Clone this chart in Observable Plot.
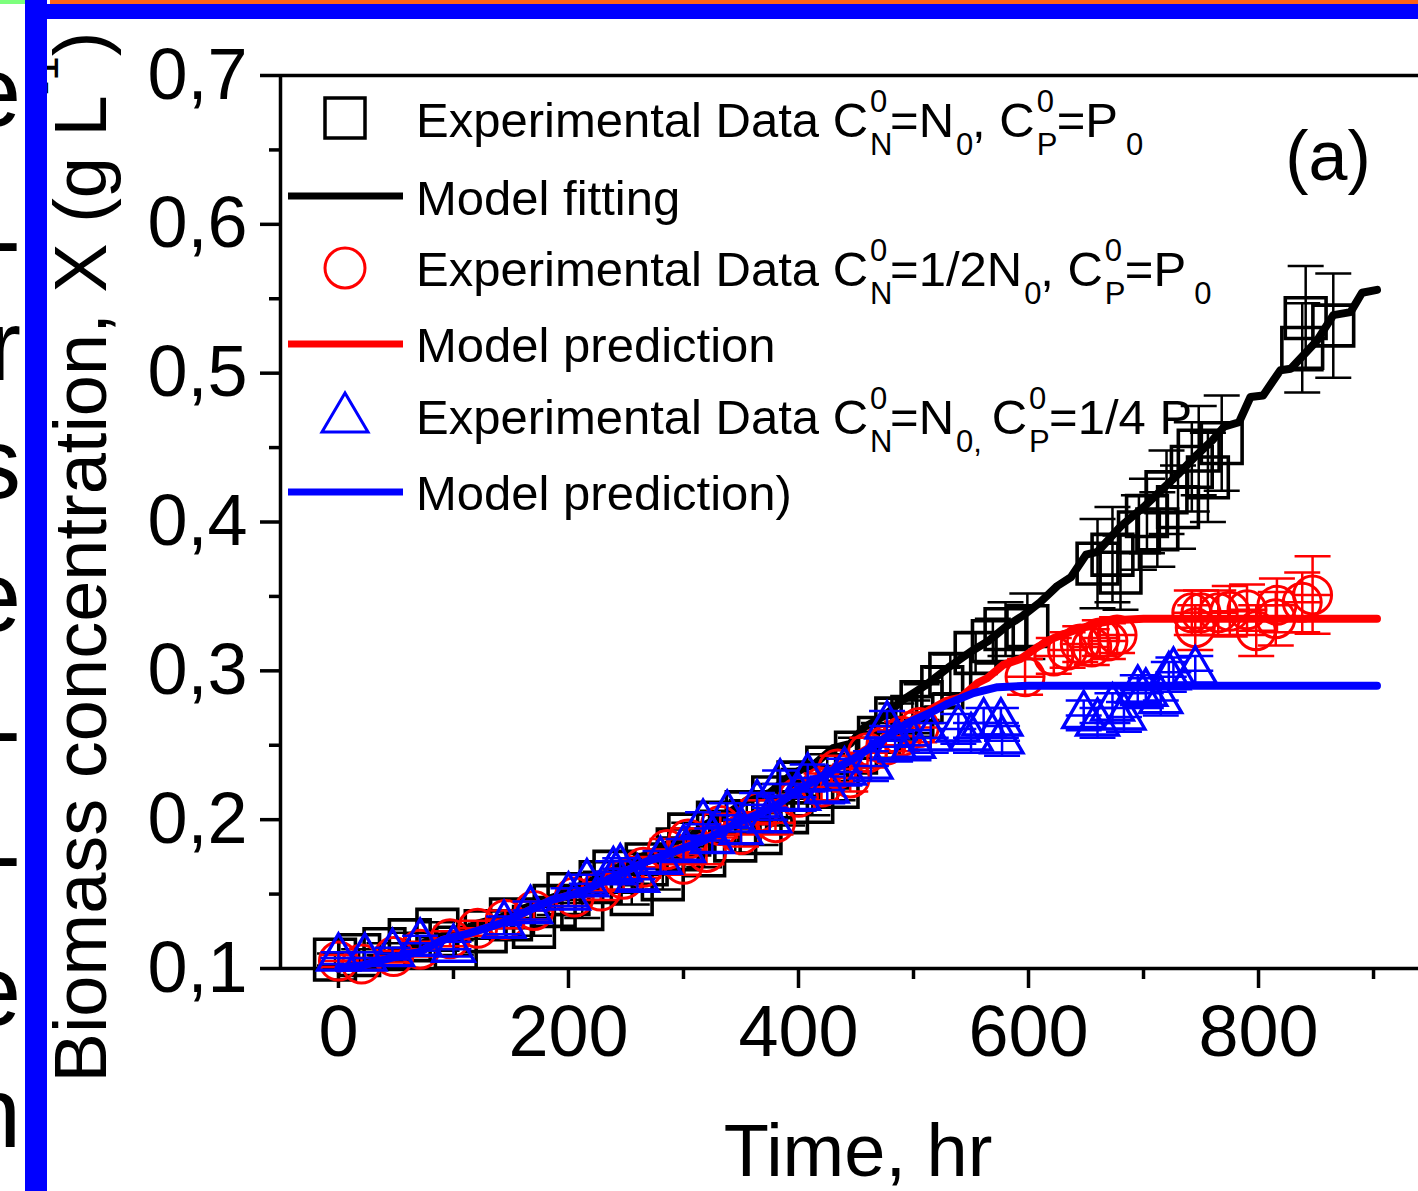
<!DOCTYPE html>
<html><head><meta charset="utf-8">
<script src="https://cdn.jsdelivr.net/npm/d3@7"></script>
<script src="https://cdn.jsdelivr.net/npm/@observablehq/plot@0.6"></script>
<style>
body{margin:0;background:#fff;}
#wrap{position:relative;width:1418px;height:1191px;overflow:hidden;background:#fff;font-family:"Liberation Sans",Arial,sans-serif;color:#000;}
#wrap svg{position:absolute;left:0;top:0;}
.abs{position:absolute;}
.row{position:absolute;left:416px;font-size:49px;line-height:49px;white-space:nowrap;}
.st{display:inline-block;position:relative;height:0;vertical-align:baseline;}
.st span{position:absolute;left:2px;font-size:31px;line-height:31px;}
.lt{position:absolute;right:4px;font-size:100px;line-height:100px;}
</style></head><body><div id="wrap"></div>
<script>
// ---------- data ----------
const xTicks = [0, 200, 400, 600, 800];
const xMinor = [100, 300, 500, 700, 900];
const yTicks = [0.1, 0.2, 0.3, 0.4, 0.5, 0.6, 0.7];
const yMinor = [0.15, 0.25, 0.35, 0.45, 0.55, 0.65];
const xDomain = [-50.4, 939.1];
const yDomain = [0.1, 0.7];

// [time (hr), biomass (g/L), error]
const expBlack = [
  [-3,0.106,0.004],[18,0.109,0.004],[40,0.113,0.004],[62,0.119,0.005],[86,0.126,0.005],
  [102,0.114,0.005],[128,0.125,0.005],[150,0.133,0.006],[170,0.128,0.006],[188,0.142,0.006],
  [200,0.150,0.006],[212,0.140,0.006],[228,0.158,0.007],[240,0.165,0.007],[255,0.150,0.007],
  [268,0.170,0.007],[282,0.160,0.007],[295,0.180,0.008],[305,0.190,0.008],[318,0.176,0.008],
  [330,0.198,0.008],[345,0.186,0.008],[355,0.205,0.008],[367,0.191,0.008],[378,0.215,0.009],
  [390,0.205,0.009],[400,0.225,0.009],[412,0.212,0.009],[425,0.235,0.009],[434,0.222,0.009],
  [450,0.245,0.010],[470,0.255,0.010],[485,0.268,0.010],[499,0.269,0.011],[507,0.279,0.012],
  [525,0.289,0.013],[532,0.298,0.013],[554,0.312,0.014],[569,0.320,0.015],[580,0.328,0.018],
  [599,0.330,0.022],[660,0.372,0.030],[673,0.378,0.032],[680,0.366,0.025],[696,0.393,0.025],
  [703,0.404,0.025],[712,0.395,0.025],[720,0.420,0.028],[730,0.410,0.028],[742,0.437,0.030],
  [748,0.448,0.030],[756,0.430,0.030],[768,0.453,0.032],[838,0.517,0.030],[841,0.537,0.035],
  [865,0.532,0.035]
];
const expRed = [
  [0,0.105,0.004],[20,0.103,0.004],[48,0.108,0.004],[71,0.113,0.005],[97,0.120,0.005],
  [121,0.127,0.005],[145,0.133,0.006],[170,0.139,0.006],[205,0.148,0.006],[228,0.152,0.006],
  [248,0.160,0.007],[265,0.168,0.007],[286,0.180,0.007],[300,0.170,0.007],[304,0.187,0.007],
  [320,0.178,0.008],[332,0.196,0.008],[350,0.190,0.008],[365,0.205,0.008],[380,0.198,0.008],
  [400,0.215,0.009],[420,0.222,0.009],[434,0.234,0.009],[445,0.228,0.009],[460,0.245,0.010],
  [476,0.250,0.010],[490,0.256,0.010],[505,0.262,0.010],[597,0.296,0.012],[622,0.310,0.012],
  [634,0.314,0.012],[645,0.318,0.012],[655,0.316,0.012],[662,0.322,0.012],[669,0.320,0.012],
  [677,0.324,0.012],[742,0.339,0.015],[745,0.329,0.015],[750,0.339,0.015],[765,0.339,0.015],
  [775,0.340,0.017],[790,0.341,0.017],[798,0.327,0.017],[815,0.335,0.018],[816,0.344,0.018],
  [838,0.346,0.020],[847,0.351,0.026]
];
const expBlue = [
  [0,0.107,0.004],[23,0.107,0.004],[47,0.110,0.004],[71,0.117,0.005],[100,0.113,0.005],
  [144,0.129,0.006],[167,0.139,0.006],[200,0.148,0.006],[216,0.157,0.006],[239,0.165,0.007],
  [245,0.167,0.007],[260,0.160,0.007],[280,0.172,0.007],[300,0.180,0.007],[317,0.197,0.008],
  [325,0.186,0.008],[338,0.203,0.008],[350,0.192,0.008],[364,0.210,0.008],[375,0.200,0.008],
  [384,0.224,0.009],[400,0.215,0.009],[408,0.228,0.009],[425,0.220,0.009],[440,0.232,0.009],
  [463,0.236,0.010],[477,0.263,0.010],[484,0.249,0.010],[500,0.250,0.010],[515,0.255,0.010],
  [539,0.261,0.010],[550,0.255,0.010],[561,0.265,0.010],[576,0.265,0.010],[577,0.253,0.010],
  [648,0.270,0.010],[660,0.265,0.010],[673,0.275,0.010],[683,0.269,0.010],[695,0.287,0.010],
  [702,0.285,0.010],[715,0.280,0.010],[722,0.296,0.010],[726,0.299,0.010],[745,0.300,0.010]
];

// [time (hr), biomass (g/L)]
const modelBlack = [
  [0,0.100],[20,0.104],[45,0.110],[65,0.114],[85,0.121],[105,0.124],[120,0.130],[140,0.134],
  [160,0.140],[180,0.146],[195,0.150],[220,0.159],[235,0.164],[250,0.171],[270,0.177],[290,0.185],
  [305,0.188],[320,0.197],[340,0.205],[355,0.213],[375,0.218],[395,0.231],[415,0.238],[430,0.248],
  [445,0.251],[457,0.262],[475,0.270],[490,0.280],[510,0.290],[530,0.302],[550,0.313],[565,0.320],
  [581,0.330],[595,0.337],[610,0.346],[625,0.357],[637,0.363],[650,0.378],[660,0.380],[680,0.397],
  [700,0.410],[715,0.421],[730,0.432],[745,0.444],[760,0.455],[770,0.464],[783,0.467],[793,0.484],
  [804,0.485],[819,0.502],[828,0.503],[851,0.522],[865,0.539],[880,0.541],[890,0.554],[903,0.556]
];
const modelRed = [
  [0,0.100],[20,0.102],[45,0.107],[70,0.111],[90,0.119],[115,0.124],[140,0.130],[160,0.137],
  [185,0.146],[210,0.151],[235,0.160],[265,0.171],[290,0.178],[318,0.187],[350,0.200],[378,0.209],
  [396,0.219],[420,0.230],[448,0.242],[475,0.255],[503,0.269],[529,0.280],[541,0.282],[556,0.292],
  [564,0.295],[578,0.304],[593,0.308],[608,0.316],[622,0.322],[639,0.327],[660,0.332],[675,0.334],
  [700,0.335],[903,0.335]
];
const modelBlue = [
  [0,0.100],[20,0.102],[45,0.107],[70,0.111],[90,0.119],[115,0.124],[140,0.130],[160,0.137],
  [185,0.146],[210,0.151],[235,0.160],[265,0.171],[290,0.178],[318,0.186],[350,0.199],[378,0.208],
  [396,0.218],[420,0.229],[448,0.241],[470,0.252],[495,0.265],[515,0.272],[530,0.278],[552,0.285],
  [573,0.289],[600,0.290],[903,0.290]
];

// ---------- build ----------
const pts = a => a.map(([t, v, e]) => ({t, v, e}));
const lin = a => a.map(([t, v]) => ({t, v}));
const cap = {draw(ctx) { ctx.moveTo(-18, 0); ctx.lineTo(18, 0); }};

function series(raw, model, color, symbol, r, sw, center) {
  const data = pts(raw);
  const m = [
    Plot.ruleX(data, {x: "t", y1: d => d.v - d.e, y2: d => d.v + d.e, stroke: color, strokeWidth: 2.5}),
    Plot.dot(data, {x: "t", y: d => d.v + d.e, symbol: cap, stroke: color, fill: "none", strokeWidth: 2.5}),
    Plot.dot(data, {x: "t", y: d => d.v - d.e, symbol: cap, stroke: color, fill: "none", strokeWidth: 2.5})
  ];
  if (center) m.push(Plot.dot(data, {x: "t", y: "v", symbol: cap, stroke: color, fill: "none", strokeWidth: 2.5}));
  m.push(Plot.dot(data, {x: "t", y: "v", symbol, r, stroke: color, fill: "none", strokeWidth: sw}));
  m.push(Plot.line(lin(model), {x: "t", y: "v", stroke: color, strokeWidth: 8, strokeLinejoin: "round"}));
  return m;
}

const yFmt = d => d.toFixed(1).replace(".", ",");

const chart = Plot.plot({
  width: 1418, height: 1191,
  marginLeft: 280, marginRight: 0, marginTop: 75, marginBottom: 223,
  style: {background: "transparent", fontFamily: "'Liberation Sans', Arial, sans-serif", color: "#000", overflow: "visible"},
  x: {domain: xDomain, label: null},
  y: {domain: yDomain, label: null},
  marks: [
    Plot.axisX(xTicks, {tickSize: 20, tickPadding: 16, fontSize: 72, strokeWidth: 3.5, tickFormat: d => String(d), label: null}),
    Plot.axisX(xMinor, {tickSize: 11, strokeWidth: 3.5, text: null, label: null}),
    Plot.axisY(yTicks, {tickSize: 20, tickPadding: 13, fontSize: 72, strokeWidth: 3.5, tickFormat: yFmt, label: null}),
    Plot.axisY(yMinor, {tickSize: 11, strokeWidth: 3.5, text: null, label: null}),
    Plot.ruleY([yDomain[0]], {strokeWidth: 3.5}),
    Plot.ruleY([yDomain[1]], {strokeWidth: 3.5}),
    Plot.ruleX([xDomain[0]], {strokeWidth: 3.5}),
    ...series(expBlack, modelBlack, "#000000", "square", 23, 3.6, false),
    ...series(expRed, modelRed, "#ff0000", "circle", 19, 3, true),
    ...series(expBlue, modelBlue, "#0000ff", "triangle", 15.5, 3.4, true)
  ]
});

const wrap = document.getElementById("wrap");
wrap.appendChild(chart);

// axis titles and panel label
const svg = d3.select(chart);
const yl = svg.append("text")
  .attr("transform", "translate(106,557) rotate(-90)")
  .attr("text-anchor", "middle")
  .attr("font-size", 74)
  .attr("fill", "#000");
yl.append("tspan").text("Biomass concentration, X (g L");
yl.append("tspan").attr("dy", -48).attr("font-size", 44).text("-1");
yl.append("tspan").attr("dy", 48).text(")");
svg.append("text").attr("x", 858).attr("y", 1176).attr("text-anchor", "middle")
  .attr("font-size", 74).attr("fill", "#000").text("Time, hr");
svg.append("text").attr("x", 1328).attr("y", 180).attr("text-anchor", "middle")
  .attr("font-size", 70).attr("fill", "#000").text("(a)");

// legend symbols
const lg = svg.append("g");
lg.append("rect").attr("x", 325).attr("y", 98).attr("width", 40).attr("height", 40)
  .attr("fill", "none").attr("stroke", "#000").attr("stroke-width", 3.5);
lg.append("line").attr("x1", 288).attr("x2", 403).attr("y1", 196).attr("y2", 196)
  .attr("stroke", "#000").attr("stroke-width", 7);
lg.append("circle").attr("cx", 345).attr("cy", 268).attr("r", 20)
  .attr("fill", "none").attr("stroke", "#ff0000").attr("stroke-width", 3);
lg.append("line").attr("x1", 288).attr("x2", 403).attr("y1", 344).attr("y2", 344)
  .attr("stroke", "#ff0000").attr("stroke-width", 7);
lg.append("polygon").attr("points", "345,393 322,432 368,432")
  .attr("fill", "none").attr("stroke", "#0000ff").attr("stroke-width", 3);
lg.append("line").attr("x1", 288).attr("x2", 403).attr("y1", 492).attr("y2", 492)
  .attr("stroke", "#0000ff").attr("stroke-width", 7);

// legend text
const st = (a, b) => `<span class="st" style="width:22px"><span style="top:-51px">${a}</span><span style="top:-8px">${b}</span></span>`;
const sb = (a, ml = 0) => `<span class="st" style="width:${a.length > 1 ? 24 : 18}px;margin-left:${ml}px"><span style="top:-8px">${a}</span></span>`;
const rows = [
  [95.5, `Experimental Data C${st("0","N")}=N${sb("0")}, C${st("0","P")}=P${sb("0", 6)}`],
  [173.5, `Model fitting`],
  [244.5, `Experimental Data C${st("0","N")}=1/2N${sb("0")}, C${st("0","P")}=P${sb("0", 6)}`],
  [320.5, `Model prediction`],
  [392.5, `Experimental Data C${st("0","N")}=N${sb("0,")} C${st("0","P")}=1/4 P`],
  [468.5, `Model prediction)`]
];
for (const [top, html] of rows) {
  const d = document.createElement("div");
  d.className = "row"; d.style.top = top + "px"; d.innerHTML = html;
  wrap.appendChild(d);
}

// surrounding page fragments (crop artefacts)
const strip = document.createElement("div");
strip.className = "abs";
strip.style.cssText = "left:0;top:4px;width:25px;height:1187px;overflow:hidden;background:#fff";
wrap.appendChild(strip);
const letters = [["e", 99], ["-", 247], ["r", 353], ["s", 471], ["e", 604], ["-", 737], ["-", 862], ["e", 998], ["n", 1120]];
for (const [ch, yc] of letters) {
  const s = document.createElement("div");
  s.className = "lt"; s.style.top = (yc - 58 - 4) + "px"; s.textContent = ch;
  strip.appendChild(s);
}
const bars = [
  "left:0;top:0;width:30px;height:4px;background:#7dff7d",
  "left:50px;top:0;width:1368px;height:4px;background:#ff6414",
  "left:47px;top:4px;width:1371px;height:15px;background:#0000ff",
  "left:25px;top:0;width:22px;height:1191px;background:#0000ff"
];
for (const css of bars) {
  const d = document.createElement("div");
  d.className = "abs"; d.style.cssText = css;
  wrap.appendChild(d);
}
</script></body></html>
